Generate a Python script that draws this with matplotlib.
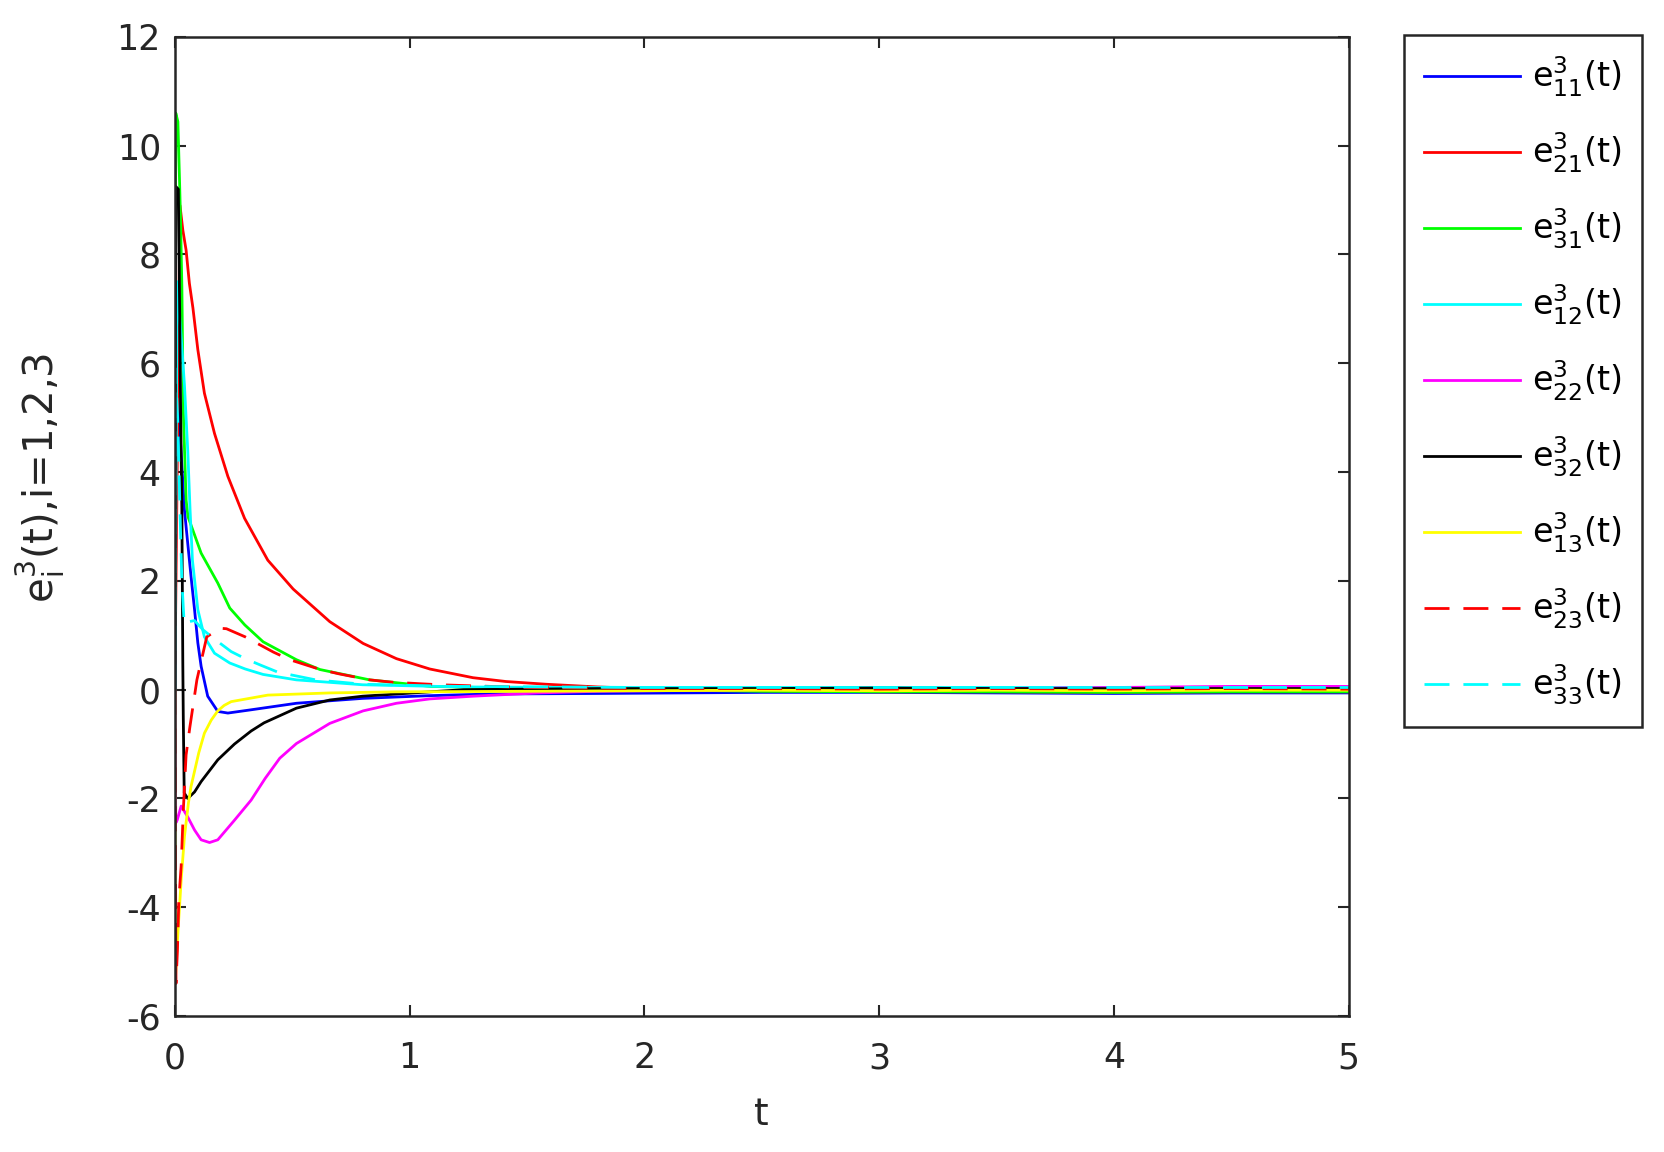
import matplotlib
matplotlib.use("Agg")
import matplotlib.pyplot as plt

plt.rcParams['font.family'] = ['DejaVu Sans']
plt.rcParams['axes.unicode_minus'] = False
plt.rcParams['mathtext.default'] = 'regular'

# --- Dane ---
t_e11 = [0, 0.008, 0.013, 0.025, 0.041, 0.069, 0.084, 0.098, 0.112, 0.14, 0.183, 0.226, 0.325,
         0.518, 0.80, 1.086, 1.342, 1.8, 2.5, 3.0, 3.5, 4.0, 4.5, 5.0]
e11 = [0, 5.5, 5.3, 4.5, 3.3, 2.08, 1.47, 0.86, 0.43, -0.12, -0.40, -0.43, -0.37,
       -0.25, -0.16, -0.11, -0.08, -0.07, -0.05, -0.05, -0.06, -0.07, -0.06, -0.06]

t_e21 = [0, 0.022, 0.034, 0.048, 0.062, 0.077, 0.098, 0.126, 0.169, 0.226, 0.297, 0.396,
         0.504, 0.66, 0.802, 0.944, 1.086, 1.27, 1.41, 1.58, 1.8, 2.0, 2.5, 3.0, 3.5, 4.0, 4.5, 5.0]
e21 = [0, 8.9, 8.45, 8.08, 7.47, 7.02, 6.25, 5.45, 4.71, 3.92, 3.15, 2.38,
       1.85, 1.25, 0.85, 0.57, 0.38, 0.22, 0.15, 0.10, 0.05, 0.02, -0.02, -0.04, -0.04, -0.05, -0.04, -0.04]

t_e31 = [0, 0.004, 0.013, 0.020, 0.024, 0.030, 0.036, 0.048, 0.056, 0.112, 0.183, 0.234, 0.298,
         0.376, 0.518, 0.618, 0.83, 1.09, 1.5, 2.0, 2.5, 3.0, 3.5, 4.0, 4.5, 5.0]
e31 = [2.8, 10.6, 10.44, 9.37, 8.70, 7.41, 5.14, 3.49, 3.18, 2.51, 1.96, 1.50, 1.19,
       0.88, 0.55, 0.37, 0.18, 0.06, 0.02, 0.0, -0.03, -0.04, -0.04, -0.05, -0.04, -0.04]

t_e12 = [0, 0.01, 0.025, 0.041, 0.055, 0.065, 0.075, 0.098, 0.126, 0.169, 0.234, 0.30, 0.376,
         0.518, 0.80, 1.23, 1.8, 2.5, 3.0, 3.5, 4.0, 4.5, 5.0]
e12 = [0, 7.5, 6.6, 5.6, 4.4, 3.3, 2.38, 1.47, 0.97, 0.67, 0.49, 0.38, 0.28,
       0.18, 0.09, 0.05, 0.04, 0.04, 0.04, 0.04, 0.04, 0.04, 0.04]

t_e22 = [0, 0.004, 0.01, 0.027, 0.055, 0.084, 0.112, 0.148, 0.183, 0.254, 0.325, 0.385, 0.447,
         0.518, 0.66, 0.802, 0.944, 1.086, 1.27, 1.41, 1.55, 1.8, 2.5, 3.0, 3.5, 4.0, 4.5, 5.0]
e22 = [0, -2.45, -2.40, -2.14, -2.34, -2.58, -2.76, -2.81, -2.76, -2.40, -2.03, -1.63, -1.26,
       -0.99, -0.62, -0.39, -0.25, -0.17, -0.12, -0.09, -0.06, -0.03, 0.0, 0.01, 0.02, 0.04, 0.06, 0.06]

t_e32 = [0, 0.004, 0.015, 0.020, 0.025, 0.030, 0.034, 0.036, 0.040, 0.055, 0.084, 0.112, 0.183,
         0.254, 0.325, 0.38, 0.518, 0.66, 0.80, 0.944, 1.23, 1.8, 2.5, 3.0, 3.5, 4.0, 4.5, 5.0]
e32 = [0, 9.25, 9.2, 7.2, 5.0, 3.3, 0.5, -0.5, -1.9, -2.0, -1.88, -1.69, -1.29,
       -1.0, -0.76, -0.61, -0.34, -0.19, -0.12, -0.08, 0.0, 0.02, 0.02, 0.03, 0.02, 0.02, 0.02, 0.02]

t_e13 = [0, 0.002, 0.013, 0.027, 0.041, 0.058, 0.069, 0.102, 0.126, 0.155, 0.183, 0.21, 0.24, 0.396,
         0.66, 0.944, 1.5, 2.0, 2.5, 3.0, 3.5, 4.0, 4.5, 5.0]
e13 = [0, -5.35, -4.48, -3.5, -2.70, -2.08, -1.78, -1.16, -0.80, -0.56, -0.39, -0.29, -0.22, -0.10,
       -0.06, -0.04, -0.03, -0.02, -0.01, -0.02, -0.01, -0.02, -0.01, -0.01]

t_e23 = [0, 0.005, 0.011, 0.017, 0.027, 0.036, 0.048, 0.064, 0.094, 0.136, 0.19, 0.22, 0.30,
         0.42, 0.49, 0.62, 0.70, 0.83, 0.92, 1.04, 1.13, 1.27, 1.5, 2.0, 2.5, 3.0, 3.5, 4.0, 4.5, 5.0]
e23 = [0, -5.4, -4.8, -3.87, -3.24, -2.23, -1.2, -0.69, 0.18, 0.97, 1.13, 1.12, 0.97,
       0.69, 0.55, 0.37, 0.29, 0.18, 0.14, 0.11, 0.09, 0.07, 0.04, 0.02, 0.02, 0.01, 0.02, 0.01, 0.02, 0.01]

t_e33 = [0, 0.003, 0.012, 0.022, 0.030, 0.040, 0.060, 0.084, 0.12, 0.175, 0.24, 0.30, 0.366,
         0.44, 0.6, 0.8, 1.2, 2.0, 3.0, 4.0, 5.0]
e33 = [0, 5.9, 5.0, 3.3, 2.0, 1.2, 1.25, 1.27, 1.1, 0.91, 0.70, 0.57, 0.45,
       0.32, 0.18, 0.10, 0.06, 0.04, 0.04, 0.04, 0.04]

serie = [
    (t_e11, e11, '#0000ff', '-', r'$e^3_{11}$(t)'),
    (t_e21, e21, '#ff0000', '-', r'$e^3_{21}$(t)'),
    (t_e31, e31, '#00ff00', '-', r'$e^3_{31}$(t)'),
    (t_e12, e12, '#00ffff', '-', r'$e^3_{12}$(t)'),
    (t_e22, e22, '#ff00ff', '-', r'$e^3_{22}$(t)'),
    (t_e32, e32, '#000000', '-', r'$e^3_{32}$(t)'),
    (t_e13, e13, '#ffff00', '-', r'$e^3_{13}$(t)'),
    (t_e23, e23, '#ff0000', '--', r'$e^3_{23}$(t)'),
    (t_e33, e33, '#00ffff', '--', r'$e^3_{33}$(t)'),
]

# --- Wykres ---
fig = plt.figure(figsize=(16.65, 11.52), dpi=100)
ax = fig.add_axes([0.105, 0.118, 0.705, 0.850])

for tt, yy, kolor, styl, etykieta in serie:
    if styl == '--':
        ax.plot(tt, yy, color=kolor, lw=2.0, dashes=(9, 5), label=etykieta)
    else:
        ax.plot(tt, yy, color=kolor, lw=2.0, label=etykieta)

ax.set_xlim(0, 5)
ax.set_ylim(-6, 12)
ax.set_xticks([0, 1, 2, 3, 4, 5])
ax.set_yticks(range(-6, 13, 2))
ax.tick_params(direction='in', length=8, width=1.5, labelsize=25, colors='#262626',
               top=True, right=True)
ax.tick_params(axis='x', pad=18)
ax.tick_params(axis='y', pad=10)
for s in ax.spines.values():
    s.set_linewidth(1.8)
    s.set_color('#262626')

ax.set_xlabel('t', fontsize=27, color='#262626', labelpad=16)
ax.set_ylabel(r'$e^3_i$(t),i=1,2,3', fontsize=29, color='#262626')
ax.yaxis.set_label_coords(-0.092, 0.55)

leg = ax.legend(loc='upper left', bbox_to_anchor=(1.047, 1.002), fontsize=24,
                handlelength=2.9, handletextpad=0.35, labelspacing=0.95,
                borderaxespad=0, fancybox=False, framealpha=1,
                edgecolor='#262626', borderpad=0.6)
leg.get_frame().set_linewidth(1.8)

fig.savefig('out.png', dpi=100)
